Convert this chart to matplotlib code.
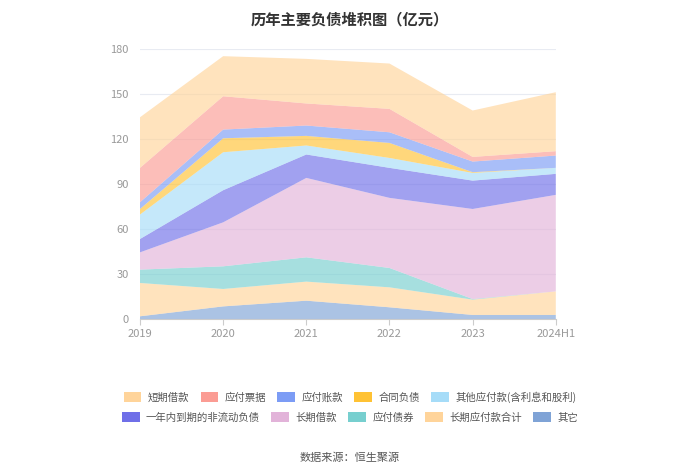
import matplotlib
matplotlib.use('Agg')
import matplotlib.pyplot as plt
from matplotlib.patches import Patch
import numpy as np

plt.rcParams['font.family'] = ['Noto Sans CJK SC', 'DejaVu Sans']

years = ['2019', '2020', '2021', '2022', '2023', '2024H1']
# bottom to top in stack order
qita = [1.8, 8.4, 12.2, 7.8, 2.7, 2.7]
changqi_yingfu = [22.2, 11.6, 12.7, 13.3, 10.2, 15.7]
yingfu_zhaiquan = [8.9, 15.1, 16.2, 12.9, 0.4, 0.0]
changqi_jiekuan = [11.5, 29.3, 52.9, 46.7, 60.0, 64.3]
yinian_daoqi = [8.9, 21.4, 15.6, 20.0, 18.9, 14.0]
qita_yingfu = [16.3, 25.3, 6.0, 6.6, 5.1, 4.0]
hetong_fuzhai = [3.7, 9.3, 6.4, 10.0, 0.5, 0.0]
yingfu_zhangkuan = [4.5, 5.8, 6.9, 7.1, 7.1, 8.2]
yingfu_piaoju = [22.9, 22.2, 14.7, 15.6, 3.1, 2.9]
duanqi_jiekuan = [33.7, 26.7, 29.7, 30.2, 30.9, 39.3]

series = [
    ('其它', qita, '#7fa3d6'),
    ('长期应付款合计', changqi_yingfu, '#ffd49a'),
    ('应付债券', yingfu_zhaiquan, '#77cfcf'),
    ('长期借款', changqi_jiekuan, '#e2b3d9'),
    ('一年内到期的非流动负债', yinian_daoqi, '#6f6fe8'),
    ('其他应付款(含利息和股利)', qita_yingfu, '#a6dcf8'),
    ('合同负债', hetong_fuzhai, '#ffc234'),
    ('应付账款', yingfu_zhangkuan, '#7c9cf5'),
    ('应付票据', yingfu_piaoju, '#fb9c94'),
    ('短期借款', duanqi_jiekuan, '#ffd49a'),
]

fig = plt.figure(figsize=(7, 4.74), dpi=100)
ax = fig.add_axes([0.2, 0.327, 0.594, 0.57])

x = np.arange(len(years))
ax.stackplot(x, *[s[1] for s in series], colors=[s[2] for s in series],
             alpha=0.65, linewidth=0)

ax.set_xlim(0, len(years) - 1)
ax.set_ylim(0, 180)
ax.set_yticks(range(0, 181, 30))
ax.set_xticks(x)
ax.set_xticklabels(years)
ax.tick_params(axis='y', length=0, labelsize=8, colors='#999999', pad=8)
ax.tick_params(axis='x', length=4, labelsize=8, colors='#999999', color='#cccccc')
ax.grid(axis='y', color='#e8ebf2', linewidth=0.8)
ax.set_axisbelow(True)
for side in ['top', 'right', 'left']:
    ax.spines[side].set_visible(False)
ax.spines['bottom'].set_color('#cccccc')

fig.text(0.5, 0.975, '历年主要负债堆积图（亿元）', ha='center', va='top',
         fontsize=11, fontweight='bold', color='#333333')

order = ['短期借款', '应付票据', '应付账款', '合同负债', '其他应付款(含利息和股利)',
         '一年内到期的非流动负债', '长期借款', '应付债券', '长期应付款合计', '其它']
cmap = {s[0]: s[2] for s in series}
rows = [order[:5], order[5:]]
for i, row in enumerate(rows):
    handles = [Patch(facecolor=cmap[n], edgecolor='none', label=n) for n in row]
    fig.legend(handles=handles, loc='center', bbox_to_anchor=(0.5, 0.162 - i * 0.043),
               ncol=5, frameon=False, fontsize=7.5, handlelength=1.7, handleheight=1.1,
               columnspacing=1.1, handletextpad=0.6, labelcolor='#555555')

fig.text(0.5, 0.035, '数据来源：恒生聚源', ha='center', va='center',
         fontsize=8, color='#555555')

fig.savefig('out.png', dpi=100)
